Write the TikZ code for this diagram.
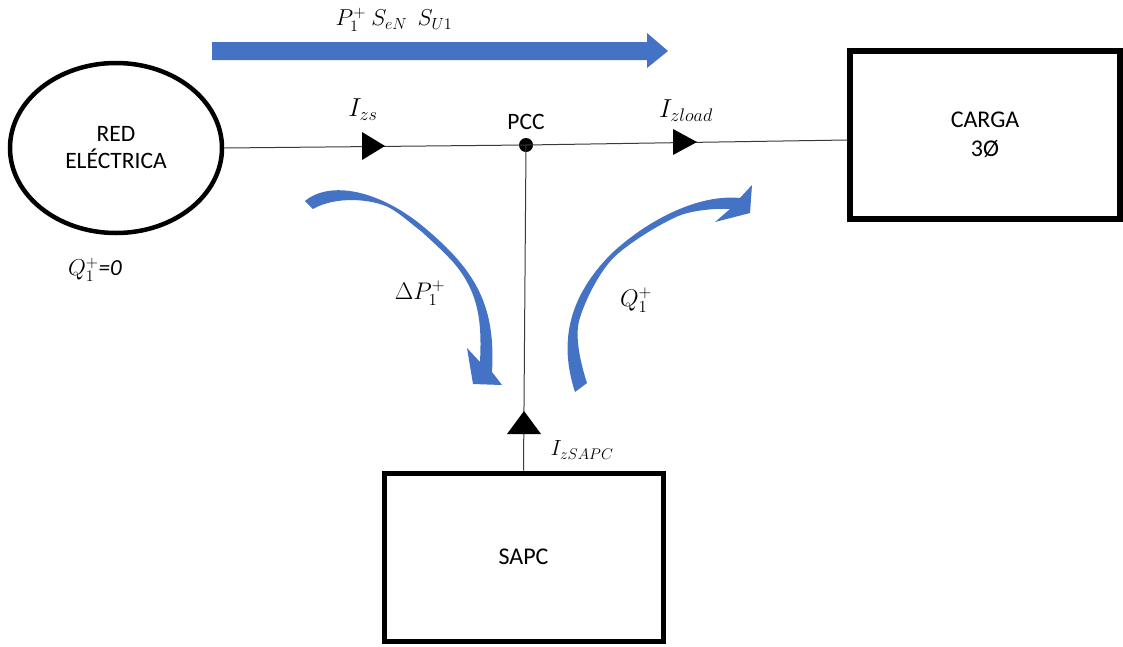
\RequirePackage{fix-cm}
\documentclass[tikz,border=0pt]{standalone}
\usepackage[no-math]{fontspec}
\setmainfont{Carlito}
\usetikzlibrary{shapes.geometric}
\definecolor{flowblue}{HTML}{4472C4}
\definecolor{wire}{HTML}{3A3A3A}

\begin{document}
\begin{tikzpicture}[x=1pt,y=-1pt,
  wirepath/.style={draw=wire, line width=1pt},
  heavybox/.style={draw, rectangle, line width=5pt, inner sep=0pt, align=center,
                   font=\fontsize{24}{29}\selectfont},
  plain/.style={inner sep=0pt, font=\fontsize{23.5}{27}\selectfont},
  lbl/.style={inner sep=0pt, font=\fontsize{22}{26}\selectfont},
  linelbl/.style={inner sep=0pt, font=\fontsize{26}{30}\selectfont},
  biglbl/.style={inner sep=0pt, font=\fontsize{24}{28}\selectfont},
  flow/.style={fill=flowblue},
  marker/.style={fill=black}]

\useasboundingbox (0,0) rectangle (1123,646);

% source, load and compensator
\node[ellipse, draw, line width=4.5pt, minimum width=212pt, minimum height=170pt,
      inner sep=0pt, align=center, font=\fontsize{23.5}{27}\selectfont]
      (grid) at (116,148) {RED\\ELÉCTRICA};
\node[heavybox, line width=6pt, minimum width=270pt, minimum height=168pt]
      (load) at (985,135) {CARGA\\3Ø};
\node[heavybox, minimum width=279pt, minimum height=168pt]
      (sapc) at (523.5,557) {SAPC};

% point of common coupling
\node[circle, fill, inner sep=0pt, minimum size=14pt] (pcc) at (526,145) {};
\node[plain] (pcclbl) at (526,122) {PCC};

% wiring
\coordinate (loadin) at (847,140);
\draw[wirepath] (grid.east) -- (pcc.center) -- (loadin);
\draw[wirepath] (pcc.center) -- (sapc.north);

% current direction markers
\fill[marker] (362,132) -- (385,146) -- (362,160) -- cycle;
\fill[marker] (673,129) -- (697,142) -- (673,155) -- cycle;
\fill[marker] (507,434) -- (524,411) -- (541,434) -- cycle;

% current labels
\node[linelbl] (izs) at (363,110) {$I_{zs}$};
\node[linelbl] (izload) at (686,111) {$I_{zload}$};
\node[lbl] (izsapc) at (582,450) {$I_{zSAPC}$};

% power flow from the grid
\fill[flow] (212,42) -- (647,42) -- (647,33) -- (668,51) -- (647,68) -- (647,60) -- (212,60) -- cycle;
\node[inner sep=0pt, font=\fontsize{23}{27}\selectfont] (ptop) at (394,20) {$P_1^+\ S_{eN}\ \ S_{U1}$};

% active power drawn by the compensator (tapered curved arrow)
\fill[flow] (305,201)
  .. controls (330,180) and (380,190) .. (425,228)
  .. controls (475,270) and (496,305) .. (492,372)
  -- (502,385) -- (473,384) -- (467,348) -- (480,362)
  .. controls (482,322) and (479,292) .. (453,262)
  .. controls (440,248) and (430.2,239.7) .. (421.8,231.8)
  .. controls (411.8,224.3) and (400,213.5) .. (390,208)
  .. controls (372,198.5) and (335,196) .. (313,209) -- cycle;
\node[biglbl] (dp) at (420,293) {$\Delta P_1^+$};

% reactive power supplied to the load (tapered curved arrow)
\fill[flow] (575,392)
  .. controls (558,340) and (570,295) .. (612,253)
  .. controls (650,218) and (700,194) .. (740,198)
  -- (752,185) -- (750,213) -- (715,222) -- (730,209)
  .. controls (717,208) and (691.4,210.2) .. (677.4,216.4)
  .. controls (657.4,225.3) and (629.7,242.7) .. (615,256.3)
  .. controls (600.3,269.9) and (584.2,301.5) .. (579.1,320.8)
  .. controls (574.5,338.2) and (581.4,365.9) .. (587,383) -- cycle;
\node[biglbl] (qc) at (636,300) {$Q_1^+$};

\node[inner sep=0pt, font=\fontsize{23}{27}\selectfont] (q0) at (95,270) {$Q_1^+$\textit{=0}};

\end{tikzpicture}
\end{document}
